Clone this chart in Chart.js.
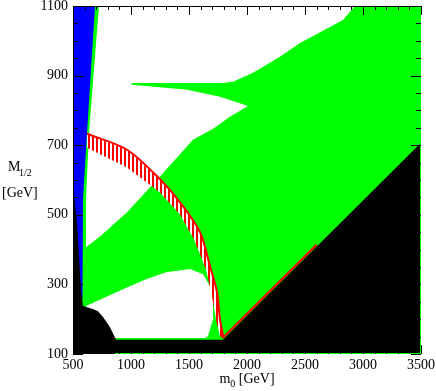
<!DOCTYPE html>
<html lang="en">
<head>
<meta http-equiv="content-type" content="text/html; charset=UTF-8">
<title>m0 - M1/2 plane</title>
<script src="https://cdn.jsdelivr.net/npm/chart.js@4.4.0/dist/chart.umd.min.js"></script>
<style>
	body { margin: 0; background: #fff; }
</style>
</head>
<body>
<canvas id="plane" width="436" height="391"></canvas>
<script>
// axis ticks (GeV)
var m0Ticks = [500, 1000, 1500, 2000, 2500, 3000, 3500];
var mHalfTicks = [100, 300, 500, 700, 900, 1100];
var m0MinorStep = 100;
var mHalfMinorStep = 50;

// region outlines as [m0, M1/2] pairs
var greenRegion = [[500, 100], [3500, 100], [3500, 1100], [500, 1100]];

var whiteUpper = [
	[612, 407], [612, 544], [638, 736], [724, 1100], [2931, 1100], [2827, 1060],
	[2457, 994], [2284, 954], [2052, 908], [1879, 882], [1793, 879], [1009, 879],
	[1000, 876], [1009, 874], [1483, 859], [1767, 839], [2009, 813], [1853, 782],
	[1707, 747], [1534, 716], [1250, 610], [966, 507], [733, 438], [612, 407]
];

var whiteLower = [
	[612, 238], [931, 286], [1129, 315], [1302, 335], [1509, 344], [1621, 329],
	[1681, 295], [1707, 258], [1707, 200], [1664, 152], [1640, 146], [600, 146]
];

var redBandOuter = [
	[621, 733], [966, 687], [1250, 602], [1422, 536], [1595, 450], [1681, 352],
	[1741, 278], [1767, 200], [1793, 152], [1790, 146]
];
var redBandInner = [
	[1767, 152], [1733, 200], [1698, 266], [1647, 343], [1543, 430], [1422, 501],
	[1250, 564], [966, 636], [621, 693]
];

var redEdge = [[1790, 146], [2600, 414]];

var blueRegion = [[500, 1100], [690, 1100], [621, 736], [586, 544], [586, 401], [578, 258], [500, 258]];

var blackRegion = [
	[500, 100], [500, 587], [534, 478], [569, 286], [586, 238], [672, 229], [715, 223],
	[759, 206], [819, 177], [871, 141], [1793, 141], [3500, 707], [3500, 100]
];

function pts(list) {
	var out = [];
	for (var i = 0; i < list.length; i++) {
		out.push({x: list[i][0], y: list[i][1]});
	}
	return out;
}

// vertical red hatching for the band
function hatch() {
	var c = document.createElement('canvas');
	c.width = 4; c.height = 4;
	var g = c.getContext('2d');
	g.fillStyle = '#ffffff';
	g.fillRect(0, 0, 4, 4);
	g.fillStyle = '#ff0000';
	g.fillRect(0, 0, 2, 4);
	return g.createPattern(c, 'repeat');
}

function region(list, colour, order) {
	return {
		data: pts(list),
		showLine: true,
		fill: 'shape',
		backgroundColor: colour,
		borderColor: colour,
		borderWidth: 0,
		pointRadius: 0,
		order: order
	};
}

var serif = '"Liberation Serif", "DejaVu Serif", serif';

function line(ctx, x1, y1, x2, y2) {
	ctx.beginPath();
	ctx.moveTo(x1, y1);
	ctx.lineTo(x2, y2);
	ctx.stroke();
}

var framePlugin = {
	id: 'frame',
	afterDatasetsDraw: function (chart) {
		var ctx = chart.ctx;
		var a = chart.chartArea;
		var xs = chart.scales.x, ys = chart.scales.y;
		ctx.save();
		ctx.lineWidth = 1;

		// frame: black left/top, green right and most of the bottom
		ctx.strokeStyle = '#000000';
		line(ctx, a.left + 0.5, a.top, a.left + 0.5, a.bottom);
		line(ctx, a.left, a.top + 0.5, a.right, a.top + 0.5);
		line(ctx, a.left, a.bottom - 0.5, xs.getPixelForValue(862), a.bottom - 0.5);
		ctx.strokeStyle = '#00ff00';
		line(ctx, a.right - 0.5, a.top, a.right - 0.5, a.bottom);
		line(ctx, xs.getPixelForValue(862), a.bottom - 0.5, a.right, a.bottom - 0.5);

		// inward ticks on all four sides
		ctx.strokeStyle = '#000000';
		for (var v = m0Ticks[0]; v <= m0Ticks[m0Ticks.length - 1]; v += m0MinorStep) {
			var px = Math.round(xs.getPixelForValue(v)) + 0.5;
			var len = (m0Ticks.indexOf(v) >= 0) ? 9 : 4;
			line(ctx, px, a.top, px, a.top + len);
			line(ctx, px, a.bottom, px, a.bottom - len);
		}
		for (var w = mHalfTicks[0]; w <= mHalfTicks[mHalfTicks.length - 1]; w += mHalfMinorStep) {
			var py = Math.round(ys.getPixelForValue(w)) + 0.5;
			var len2 = (mHalfTicks.indexOf(w) >= 0) ? 10 : 5;
			line(ctx, a.left, py, a.left + len2, py);
			line(ctx, a.right, py, a.right - len2, py);
		}

		// axis titles
		ctx.fillStyle = '#000000';
		ctx.textBaseline = 'alphabetic';
		ctx.textAlign = 'left';
		ctx.font = '14px ' + serif;
		ctx.fillText('M', 8, 171);
		ctx.fillText('[GeV]', 2, 197);
		ctx.font = '10px ' + serif;
		ctx.fillText('1/2', 19, 176);

		ctx.font = '14px ' + serif;
		var wM = ctx.measureText('m').width;
		var wRest = ctx.measureText(' [GeV]').width;
		ctx.font = '10px ' + serif;
		var wSub = ctx.measureText('0').width;
		var x0 = xs.getPixelForValue(2000) - (wM + wSub + wRest) / 2;
		ctx.font = '14px ' + serif;
		ctx.fillText('m', x0, 383);
		ctx.fillText(' [GeV]', x0 + wM + wSub, 383);
		ctx.font = '10px ' + serif;
		ctx.fillText('0', x0 + wM, 387);
		ctx.restore();
	}
};

var bandData = redBandOuter.concat(redBandInner);

var plane = new Chart(document.getElementById('plane'), {
	type: 'scatter',
	data: {
		datasets: [
			region(blackRegion, '#000000', 0),
			{
				data: pts(redEdge),
				showLine: true,
				fill: false,
				borderColor: '#ff0000',
				borderWidth: 2,
				pointRadius: 0,
				order: 1
			},
			region(blueRegion, '#0000ff', 2),
			{
				data: pts(redBandOuter),
				showLine: true,
				fill: false,
				borderColor: '#ff0000',
				borderWidth: 2,
				pointRadius: 0,
				tension: 0.3,
				order: 3
			},
			region(bandData, hatch(), 4),
			region(whiteLower, '#ffffff', 5),
			region(whiteUpper, '#ffffff', 6),
			region(greenRegion, '#00ff00', 7)
		]
	},
	options: {
		responsive: false,
		animation: false,
		events: [],
		layout: { padding: { top: 6, right: 15, left: 0, bottom: 0 } },
		plugins: {
			legend: { display: false },
			tooltip: { enabled: false }
		},
		scales: {
			x: {
				type: 'linear',
				min: 500,
				max: 3500,
				afterFit: function (scale) {
					scale.height = 37;
					scale.paddingLeft = 0;
					scale.paddingRight = 0;
				},
				afterBuildTicks: function (scale) {
					scale.ticks = m0Ticks.map(function (v) { return {value: v}; });
				},
				grid: { display: false, drawTicks: false },
				border: { display: false },
				ticks: {
					autoSkip: false,
					maxRotation: 0,
					padding: 3,
					color: '#000000',
					font: { family: serif, size: 14 },
					callback: function (v) { return String(v); }
				}
			},
			y: {
				type: 'linear',
				min: 100,
				max: 1100,
				afterFit: function (scale) {
					scale.width = 73;
					scale.paddingTop = 0;
					scale.paddingBottom = 0;
				},
				afterBuildTicks: function (scale) {
					scale.ticks = mHalfTicks.map(function (v) { return {value: v}; });
				},
				grid: { display: false, drawTicks: false },
				border: { display: false },
				ticks: {
					autoSkip: false,
					padding: 5,
					color: '#000000',
					font: { family: serif, size: 14 },
					callback: function (v) { return String(v); }
				}
			}
		}
	},
	plugins: [framePlugin]
});
</script>
</body>
</html>
